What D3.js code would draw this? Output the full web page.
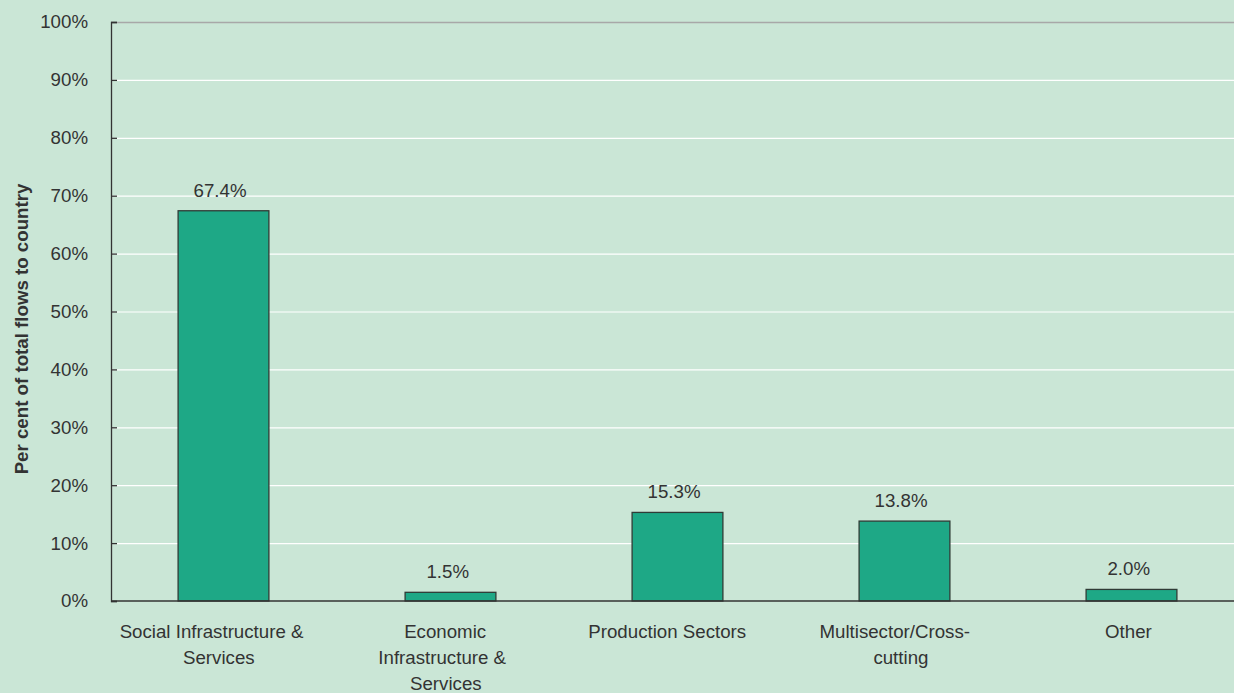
<!DOCTYPE html>
<html>
<head>
<meta charset="utf-8">
<script src="https://cdn.jsdelivr.net/npm/d3@7"></script>
<style>
  html, body { margin: 0; padding: 0; background: #cae6d6; }
  svg { display: block; }
  text { font-family: "Liberation Sans", Arial, sans-serif; fill: #333; }
</style>
</head>
<body>
<svg id="chart" width="1234" height="693"></svg>
<script>
const categories = ["Social Infrastructure & Services", "Economic Infrastructure & Services", "Production Sectors", "Multisector/Cross-cutting", "Other"];
const categoryLines = [
  ["Social Infrastructure &", "Services"],
  ["Economic", "Infrastructure &", "Services"],
  ["Production Sectors"],
  ["Multisector/Cross-", "cutting"],
  ["Other"]
];
const values = [67.4, 1.5, 15.3, 13.8, 2.0];
const valueLabels = ["67.4%", "1.5%", "15.3%", "13.8%", "2.0%"];
const yTicks = [0, 10, 20, 30, 40, 50, 60, 70, 80, 90, 100];
const yTitle = "Per cent of total flows to country";

const svg = d3.select("#chart");
const W = 1234, H = 693;
const mLeft = 111, mTop = 22, mBottom = 601;
const fs = "18.7px";
const shiftK = 0.065; // centred text sits slightly left of centre, proportional to its width

svg.append("rect").attr("width", W).attr("height", H).attr("fill", "#cae6d6");

const x = d3.scaleBand().domain(categories).range([110, 1245]).paddingInner(0.6).paddingOuter(0.3);
const y = d3.scaleLinear().domain([0, 100]).range([mBottom, mTop]);

// gridlines
svg.append("g").selectAll("line").data(yTicks.filter(d => d > 0)).join("line")
  .attr("x1", mLeft).attr("x2", W)
  .attr("y1", d => y(d) + 0.5).attr("y2", d => y(d) + 0.5)
  .attr("stroke", d => d === 100 ? "#a8a8a8" : "#ffffff")
  .attr("stroke-width", d => d === 100 ? 1.5 : 1.2);

// y axis
const yAxis = d3.axisLeft(y).tickValues(yTicks).tickFormat(d => d + "%").tickSize(-6).tickPadding(23);
const gy = svg.append("g").attr("transform", `translate(${mLeft},0)`).call(yAxis);
gy.select(".domain").attr("stroke", "#333").attr("stroke-width", 1.3);
gy.selectAll(".tick line").attr("stroke", "#333").attr("stroke-width", 1.3);
gy.selectAll(".tick text").attr("font-size", fs).attr("fill", "#333")
  .attr("font-family", '"Liberation Sans", Arial, sans-serif');

// bars
svg.append("g").selectAll("rect").data(values).join("rect")
  .attr("x", (d, i) => x(categories[i]))
  .attr("y", d => y(d))
  .attr("width", x.bandwidth())
  .attr("height", d => y(0) - y(d))
  .attr("fill", "#1ea886")
  .attr("stroke", "#2f3b36")
  .attr("stroke-width", 1.3);

// x axis
const xAxis = d3.axisBottom(x).tickSize(0).tickFormat("");
const gx = svg.append("g").attr("transform", `translate(0,${mBottom})`).call(xAxis);
gx.select(".domain").attr("stroke", "#333").attr("stroke-width", 1.5).attr("d", `M${mLeft},0H${W}`);

// x labels
const labG = svg.append("g");
categories.forEach((c, i) => {
  const cx = x(c) + x.bandwidth() / 2;
  const t = labG.append("text")
    .attr("x", cx)
    .attr("y", 638)
    .attr("text-anchor", "middle")
    .attr("font-size", fs);
  categoryLines[i].forEach((ln, j) => {
    const ts = t.append("tspan").attr("x", cx).attr("dy", j === 0 ? 0 : 26).text(ln);
    const w = ts.node().getComputedTextLength();
    ts.attr("x", cx - shiftK * w);
  });
});

// value labels
svg.append("g").selectAll("text").data(values).join("text")
  .attr("x", (d, i) => x(categories[i]) + x.bandwidth() / 2)
  .attr("y", d => y(d) - 14)
  .attr("text-anchor", "middle")
  .attr("font-size", fs)
  .text((d, i) => valueLabels[i])
  .each(function(d, i) {
    const w = this.getComputedTextLength();
    d3.select(this).attr("x", x(categories[i]) + x.bandwidth() / 2 - shiftK * w);
  });

// y title
svg.append("text")
  .attr("transform", `translate(28,329) rotate(-90)`)
  .attr("text-anchor", "middle")
  .attr("font-size", fs)
  .attr("font-weight", "bold")
  .text(yTitle);
</script>
</body>
</html>
